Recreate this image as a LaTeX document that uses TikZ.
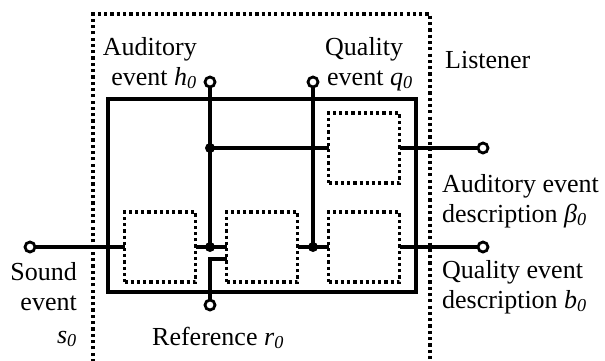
\documentclass[tikz,border=0pt]{standalone}
\usepackage{fontspec}
\setmainfont{Liberation Serif}
\newcommand\isub[2]{\textit{#1}\textsubscript{\textit{#2}}}
\begin{document}
\begin{tikzpicture}[x=1pt,y=-1pt,
  wire/.style={line width=3.2pt},
  dotbox/.style={draw,line width=3.4pt,dash pattern=on 3.2pt off 3pt,minimum width=71pt,minimum height=70pt,inner sep=0pt,outer sep=0pt},
  term/.style={circle,draw,fill=white,line width=2.8pt,minimum size=10pt,inner sep=0pt},
  junc/.style={circle,fill=black,minimum size=10pt,inner sep=0pt},
  lbl/.style={font=\fontsize{26}{30}\selectfont,inner sep=0pt}]
\useasboundingbox (0,0) rectangle (605,360);
% listener region
\draw[line width=3.4pt,dash pattern=on 3.2pt off 3.1pt] (93,362) -- (93,14) -- (430,14) -- (430,362);
% solid box
\draw[line width=3.8pt] (108,99) rectangle (416,292);
% dotted boxes
\node[dotbox] (bTR) at (364,148) {};
\node[dotbox] (b1) at (160,247) {};
\node[dotbox] (b2) at (262,247) {};
\node[dotbox] (b3) at (364,247) {};
% junctions
\node[junc] (j1) at (210,247) {};
\node[junc] (j2) at (313,247) {};
\node[junc] (jTop) at (210,148) {};
% terminals
\node[term] (th) at (210,82) {};
\node[term] (tq) at (313,82) {};
\node[term] (ts) at (30,247) {};
\node[term] (tA) at (483,148) {};
\node[term] (tQ) at (483,247) {};
\node[term] (tr) at (210,305) {};
% wires
\draw[wire] (th) -- (jTop.center) -- (j1.center);
\draw[wire] (jTop.center) -- (bTR.west);
\draw[wire] (tq) -- (j2.center);
\draw[wire] (ts) -- (b1.west);
\draw[wire] (b1.east) -- (b2.west);
\draw[wire] (tr) |- ([yshift=-12pt]b2.west);
\draw[wire] (b2.east) -- (b3.west);
\draw[wire] (bTR.east) -- (tA);
\draw[wire] (b3.east) -- (tQ);
% labels
\node[lbl,anchor=base east] (lh1) at (197,55) {Auditory};
\node[lbl,anchor=base east] (lh2) at (197,85) {event \isub{h}{0}};
\node[lbl,anchor=base west] (lq1) at (325,55) {Quality};
\node[lbl,anchor=base west] (lq2) at (327,85) {event \isub{q}{0}};
\node[lbl,anchor=base west] (ll) at (445,68) {Listener};
\node[lbl,anchor=base west] (la1) at (442,192) {Auditory event};
\node[lbl,anchor=base west] (la2) at (442,222) {description \isub{β}{0}};
\node[lbl,anchor=base west] (lb1) at (442,278) {Quality event};
\node[lbl,anchor=base west] (lb2) at (442,308) {description \isub{b}{0}};
\node[lbl,anchor=base east] (ls1) at (77,280) {Sound};
\node[lbl,anchor=base east] (ls2) at (77,310) {event};
\node[lbl,anchor=base east] (ls3) at (77,343) {\isub{s}{0}};
\node[lbl,anchor=base west] (lr) at (152,345) {Reference \isub{r}{0}};
\end{tikzpicture}
\end{document}
